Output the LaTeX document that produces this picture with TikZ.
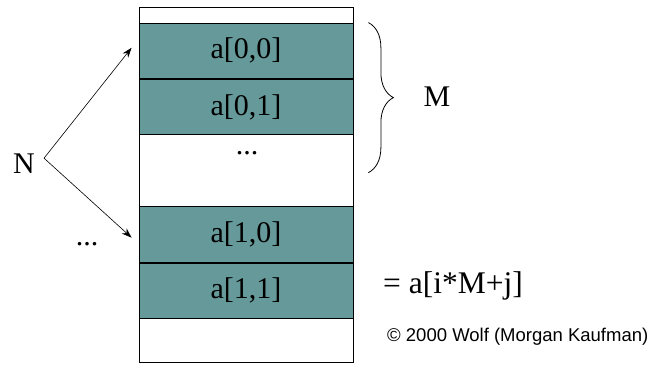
\documentclass[tikz,border=0pt]{standalone}
\usepackage{fontspec}
\setmainfont{Liberation Serif}
\newfontfamily\notefont{Liberation Sans}
\usetikzlibrary{positioning, arrows.meta, decorations.pathreplacing}
\definecolor{cellteal}{RGB}{102,153,153}

\begin{document}
\begin{tikzpicture}[x=1pt, y=-1pt, >={Stealth[length=10pt, width=7pt]}, node distance=0pt,
    cell/.style={draw, fill=cellteal, line width=0.8pt, minimum width=214pt, minimum height=55.5pt, inner sep=0pt, font=\fontsize{30}{36}\selectfont},
    lbl/.style={inner sep=0pt, font=\fontsize{30}{36}\selectfont}]
  \useasboundingbox (0,0) rectangle (648,367);

  % memory block
  \node[draw, line width=0.8pt, minimum width=214pt, minimum height=355pt, inner sep=0pt] (mem) at (246,184.5) {};
  \node[cell, below=16pt of mem.north] (a00) {a[0,0]};
  \node[cell, below=of a00] (a01) {a[0,1]};
  \node[cell, below=71pt of a01] (a10) {a[1,0]};
  \node[cell, below=of a10] (a11) {a[1,1]};
  \node[lbl, anchor=base] (gap) at (247,154) {...};

  % rows
  \node[lbl, anchor=base] (N) at (24,173) {N};
  \node[lbl, anchor=base] (more) at (87,245) {...};
  \coordinate (fork) at ([xshift=9pt, yshift=5pt]N.east);
  \coordinate (tip0) at ([xshift=-7pt, yshift=3pt]a00.west);
  \coordinate (tip1) at ([xshift=-7pt, yshift=-3.3pt]a10.west);
  \draw[->, line width=0.6pt] (fork) -- (tip0);
  \draw[->, line width=0.6pt] (fork) -- (tip1);

  % columns
  \coordinate (btop) at ([xshift=15pt]a00.north east);
  \coordinate (bbot) at ([yshift=-150pt]btop);
  \draw[line width=0.8pt, decorate, decoration={brace, amplitude=25pt}] (btop) -- (bbot);
  \node[lbl] (M) at (437,97) {M};

  \node[lbl, anchor=base west, font=\fontsize{31.5}{36}\selectfont] (addr) at (383,293) {= a[i*M+j]};
  \node[inner sep=0pt, anchor=base west, font=\notefont\fontsize{18.5}{22}\selectfont] (credit) at (387,341) {© 2000 Wolf (Morgan Kaufman)};
\end{tikzpicture}
\end{document}
